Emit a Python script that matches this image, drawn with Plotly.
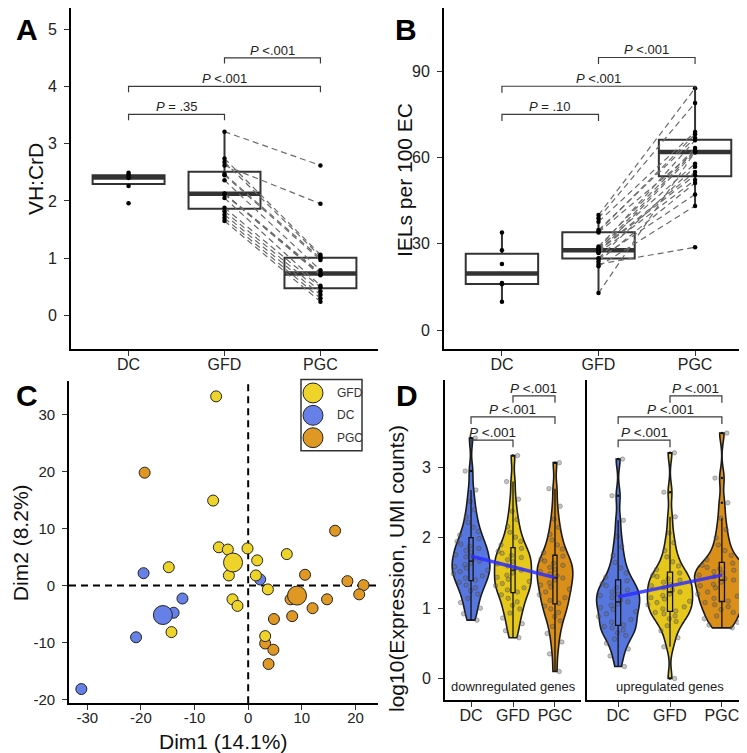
import numpy as np
import plotly.graph_objects as go

W, H = 747, 753
FONT = "Liberation Sans, Arial, sans-serif"

groups = ["DC", "GFD", "PGC"]
col_dc, col_gfd, col_pgc = "#6680E8", "#EED42A", "#DE9823"
group_colors = [col_dc, col_gfd, col_pgc]
violin_colors = ["#5877DE", "#E6C81C", "#D98F1A"]

# ---------------- Panel A: VH:CrD ----------------
vh_dc = [2.49, 2.46, 2.42, 2.40, 2.26, 1.96]
vh_gfd = [3.21, 2.74, 2.68, 2.62, 2.47, 2.45, 2.36, 2.13, 2.12, 2.12, 2.05, 1.88, 1.82, 1.76, 1.70, 1.65]
vh_pgc = [2.62, 1.06, 1.03, 1.95, 1.00, 0.97, 0.79, 0.74, 0.72, 0.70, 0.52, 0.49, 0.42, 0.36, 0.30, 0.24]
brackets_a = [(0, 1, 3.51, "<i>P</i> = .35"), (0, 2, 4.0, "<i>P</i> &lt;.001"), (1, 2, 4.5, "<i>P</i> &lt;.001")]

# ---------------- Panel B: IELs per 100 EC ----------------
iel_dc = [9.9, 16.0, 16.4, 23.0, 27.8, 34.0]
iel_gfd = [40.0, 38.9, 37.7, 34.8, 34.3, 34.0, 29.1, 28.5, 28.4, 27.9, 27.7, 27.6, 27.0, 26.8, 25.0, 24.8, 23.9, 23.0, 22.2, 12.9]
iel_pgc = [84.1, 79.0, 68.9, 66.8, 68.1, 62.2, 63.3, 66.0, 57.9, 62.5, 55.0, 53.9, 61.8, 52.2, 56.8, 47.2, 51.2, 28.8, 43.2, 62.0]
brackets_b = [(0, 1, 75.0, "<i>P</i> = .10"), (0, 2, 84.8, "<i>P</i> &lt;.001"), (1, 2, 94.8, "<i>P</i> &lt;.001")]

# ---------------- Panel C: PCA ----------------
pca_gfd_x = [-5.97, -6.53, -5.47, -3.79, -0.12, 1.68, 7.2, -14.8, -3.6, 1.43, 3.67, -2.92, -1.99, -14.3, 3.17]
pca_gfd_y = [33.2, 14.9, 6.7, 6.3, 6.5, 4.4, 5.5, 3.2, 1.75, 1.75, -0.7, -2.44, -3.6, -8.2, -8.9]
pca_dc_x = [-19.5, -12.25, -13.9, -20.9, -31.1, 2.24]
pca_dc_y = [2.15, -2.3, -4.8, -9.1, -18.2, 1.05]
pca_pgc_x = [-19.3, 16.2, 10.6, 18.5, 21.5, 20.7, 7.9, 14.7, 12.0, 4.8, 8.2, 3.17, 4.7, 3.8]
pca_pgc_y = [19.8, 9.6, 1.87, 0.75, 0.05, -1.57, -2.44, -2.44, -4.0, -5.9, -5.4, -10.2, -11.3, -13.8]
pca_ticks_x = [-30, -20, -10, 0, 10, 20]
pca_ticks_y = [-20, -10, 0, 10, 20, 30]

# ---------------- Panel D: expression ----------------
down_dc = [0.83, 0.92, 1.00, 1.08, 1.14, 1.20, 1.25, 1.29, 1.33, 1.37, 1.40,
           1.43, 1.46, 1.49, 1.52, 1.54, 1.57, 1.59, 1.62, 1.64, 1.67,
           1.70, 1.73, 1.76, 1.79, 1.82, 1.85, 1.88, 1.91, 1.95, 1.99,
           2.04, 2.09, 2.15, 2.22, 2.30, 2.40, 2.52, 2.68, 2.95, 3.42]
down_gfd = [0.58, 0.68, 0.78, 0.86, 0.93, 0.99, 1.04, 1.09, 1.14, 1.19, 1.23,
            1.26, 1.29, 1.32, 1.35, 1.38, 1.41, 1.44, 1.47, 1.50, 1.54,
            1.57, 1.60, 1.63, 1.66, 1.69, 1.72, 1.75, 1.78, 1.81, 1.85,
            1.90, 1.95, 2.01, 2.08, 2.16, 2.26, 2.38, 2.55, 2.80, 3.17]
down_pgc = [0.10, 0.35, 0.52, 0.64, 0.74, 0.82, 0.88, 0.94, 0.99, 1.03, 1.07,
            1.11, 1.15, 1.19, 1.23, 1.27, 1.30, 1.33, 1.36, 1.40, 1.43,
            1.46, 1.49, 1.52, 1.55, 1.58, 1.61, 1.64, 1.67, 1.70, 1.74,
            1.79, 1.84, 1.90, 1.97, 2.05, 2.15, 2.27, 2.45, 2.70, 3.07]
up_dc = [0.17, 0.32, 0.42, 0.50, 0.56, 0.61, 0.65, 0.69, 0.72, 0.74, 0.76,
         0.80, 0.84, 0.88, 0.92, 0.95, 0.98, 1.01, 1.04, 1.06, 1.09,
         1.12, 1.15, 1.18, 1.20, 1.23, 1.26, 1.29, 1.32, 1.35, 1.39,
         1.44, 1.50, 1.57, 1.65, 1.75, 1.87, 2.02, 2.25, 2.60, 3.12]
up_gfd = [0.00, 0.45, 0.58, 0.68, 0.75, 0.81, 0.85, 0.89, 0.92, 0.94, 0.96,
          0.99, 1.02, 1.05, 1.08, 1.10, 1.13, 1.15, 1.18, 1.20, 1.23,
          1.26, 1.29, 1.32, 1.34, 1.37, 1.40, 1.42, 1.45, 1.47, 1.50,
          1.55, 1.60, 1.66, 1.73, 1.82, 1.93, 2.07, 2.30, 2.65, 3.21]
up_pgc = [0.72, 0.76, 0.80, 0.85, 0.89, 0.94, 0.98, 1.02, 1.05, 1.08, 1.10,
          1.14, 1.17, 1.20, 1.23, 1.26, 1.29, 1.32, 1.34, 1.37, 1.40,
          1.42, 1.45, 1.47, 1.50, 1.52, 1.54, 1.56, 1.58, 1.61, 1.64,
          1.69, 1.75, 1.82, 1.90, 2.00, 2.12, 2.28, 2.50, 2.85, 3.49]
brackets_d = [(0, 1, 3.39, "<i>P</i> &lt;.001"), (0, 2, 3.72, "<i>P</i> &lt;.001"), (1, 2, 4.02, "<i>P</i> &lt;.001")]
facet_labels = ["downregulated genes", "upregulated genes"]


def X(px):
    return px / W


def Y(py):
    return 1 - py / H


fig = go.Figure()
annotations = []
shapes = []


def stats(v):
    v = np.asarray(v, float)
    q1, med, q3 = np.percentile(v, [25, 50, 75])
    iqr = q3 - q1
    lo = v[v >= q1 - 1.5 * iqr].min()
    hi = v[v <= q3 + 1.5 * iqr].max()
    return q1, med, q3, lo, hi


def box_panel(vals_list, gfd, pgc, xa, ya):
    for i, v in enumerate(vals_list):
        q1, med, q3, lo, hi = stats(v)
        fig.add_trace(go.Box(x=[i], q1=[q1], median=[med], q3=[q3], lowerfence=[lo], upperfence=[hi],
                             orientation="v", width=0.75, fillcolor="white",
                             line=dict(color="#333333", width=2), whiskerwidth=0,
                             boxpoints=False, xaxis=xa, yaxis=ya, showlegend=False, hoverinfo="skip"))
        fig.add_trace(go.Scatter(x=[i - 0.375, i + 0.375], y=[med, med], mode="lines",
                                 line=dict(color="#333333", width=4.5), xaxis=xa, yaxis=ya,
                                 showlegend=False, hoverinfo="skip"))
    xs, ys = [], []
    for g, p in zip(gfd, pgc):
        xs += [1, 2, None]
        ys += [g, p, None]
    fig.add_trace(go.Scatter(x=xs, y=ys, mode="lines", line=dict(color="#6b6b6b", width=1.2, dash="6px,4px"),
                             xaxis=xa, yaxis=ya, showlegend=False, hoverinfo="skip"))
    px_, py_ = [], []
    for i, v in enumerate(vals_list):
        px_ += [i] * len(v)
        py_ += list(v)
    fig.add_trace(go.Scatter(x=px_, y=py_, mode="markers", marker=dict(color="black", size=4.5),
                             xaxis=xa, yaxis=ya, showlegend=False, hoverinfo="skip"))


def brackets(blist, tick, xa, ya, size):
    for i, j, lev, lab in blist:
        fig.add_trace(go.Scatter(x=[i, i, j, j], y=[lev - tick, lev, lev, lev - tick], mode="lines",
                                 line=dict(color="#3a3a3a", width=1.2), xaxis=xa, yaxis=ya,
                                 showlegend=False, hoverinfo="skip"))
        annotations.append(dict(text=lab, x=(i + j) / 2, y=lev, xref=xa, yref=ya,
                                xanchor="center", yanchor="bottom", yshift=-2, showarrow=False,
                                font=dict(size=size, color="#222", family=FONT)))


# Panel A
box_panel([vh_dc, vh_gfd, vh_pgc], vh_gfd, vh_pgc, "x", "y")
brackets(brackets_a, 0.1, "x", "y", 13)
# Panel B
box_panel([iel_dc, iel_gfd, iel_pgc], iel_gfd, iel_pgc, "x2", "y2")
brackets(brackets_b, 2.3, "x2", "y2", 13)

# Panel C
for gx, gy, c in [(pca_dc_x, pca_dc_y, col_dc), (pca_pgc_x, pca_pgc_y, col_pgc), (pca_gfd_x, pca_gfd_y, col_gfd)]:
    fig.add_trace(go.Scatter(x=gx, y=gy, mode="markers",
                             marker=dict(color=c, size=11, line=dict(color="#222", width=1)),
                             xaxis="x3", yaxis="y3", showlegend=False, hoverinfo="skip"))
for gx, gy, c in [(pca_gfd_x, pca_gfd_y, col_gfd), (pca_dc_x, pca_dc_y, col_dc), (pca_pgc_x, pca_pgc_y, col_pgc)]:
    fig.add_trace(go.Scatter(x=[np.mean(gx)], y=[np.mean(gy)], mode="markers",
                             marker=dict(color=c, size=19, line=dict(color="#222", width=1)),
                             xaxis="x3", yaxis="y3", showlegend=False, hoverinfo="skip"))
shapes.append(dict(type="line", xref="x3", yref="y3 domain", x0=0, x1=0, y0=0, y1=1, layer="below",
                   line=dict(color="black", width=2, dash="7px,5px")))
shapes.append(dict(type="line", xref="x3 domain", yref="y3", x0=0, x1=1, y0=0, y1=0, layer="below",
                   line=dict(color="black", width=2, dash="7px,5px")))
# legend for C
shapes.append(dict(type="rect", xref="paper", yref="paper", x0=X(293), x1=X(354), y0=Y(445), y1=Y(373.5),
                   line=dict(color="#333", width=1.5), fillcolor="white", layer="above"))
for k, (name, c) in enumerate([("GFD", col_gfd), ("DC", col_dc), ("PGC", col_pgc)]):
    cy = [387, 409.5, 432][k]
    shapes.append(dict(type="circle", xref="paper", yref="paper", x0=X(295), x1=X(315), y0=Y(cy + 10), y1=Y(cy - 10),
                       line=dict(color="#222", width=1), fillcolor=c, layer="above"))
    annotations.append(dict(text=name, x=X(327), y=Y(cy), xref="paper", yref="paper", xanchor="left",
                            yanchor="middle", showarrow=False, font=dict(size=12, color="#333", family=FONT)))

# Panel D
facets = [([down_dc, down_gfd, down_pgc], [0.90, 0.88, 0.85], "x4", "y4"),
          ([up_dc, up_gfd, up_pgc], [0.83, 0.87, 1.05], "x5", "y5")]
for vals, widths, xa, ya in facets:
    for i, (v, w, c) in enumerate(zip(vals, widths, violin_colors)):
        fig.add_trace(go.Violin(x=[i] * len(v), y=v, width=w, scalemode="width", spanmode="hard",
                                bandwidth=0.13, fillcolor=c, line=dict(color="#1a1a1a", width=1.6),
                                points="all", pointpos=0, jitter=1.0,
                                marker=dict(color="rgba(100,100,100,0.38)", size=4.5,
                                            line=dict(color="rgba(45,45,45,0.5)", width=0.6)),
                                box_visible=False, meanline_visible=False, opacity=1,
                                xaxis=xa, yaxis=ya, showlegend=False, hoverinfo="skip"))
    for i, v in enumerate(vals):
        fig.add_trace(go.Box(x=[i] * len(v), y=v, width=0.1, fillcolor="rgba(0,0,0,0)",
                             line=dict(color="#111", width=1.3), whiskerwidth=0, boxpoints="outliers",
                             pointpos=0, jitter=0, marker=dict(color="#111", size=2.5),
                             xaxis=xa, yaxis=ya, showlegend=False, hoverinfo="skip"))
    xs_all = np.concatenate([[i] * len(v) for i, v in enumerate(vals)])
    ys_all = np.concatenate(vals)
    b, a = np.polyfit(xs_all, ys_all, 1)
    fig.add_trace(go.Scatter(x=[0, 2], y=[a, a + 2 * b], mode="lines",
                             line=dict(color="rgba(45,45,255,0.85)", width=3.5),
                             xaxis=xa, yaxis=ya, showlegend=False, hoverinfo="skip"))
    brackets(brackets_d, 0.1, xa, ya, 13.5)

for lab, cx in zip(facet_labels, [505, 662]):
    annotations.append(dict(text=lab, x=X(cx), y=Y(682), xref="paper", yref="paper", xanchor="center",
                            yanchor="middle", showarrow=False, font=dict(size=13, color="#222", family=FONT)))

# axis titles
titles = [("VH:CrD", 27, 172, -90), ("IELs per 100 EC", 396, 173, -90), ("Dim2 (8.2%)", 12, 538, -90),
          ("Dim1 (14.1%)", 215, 737, 0), ("log10(Expression, UMI counts)", 388, 564, -90)]
for t, px, py, ang in titles:
    annotations.append(dict(text=t, x=X(px), y=Y(py), xref="paper", yref="paper", xanchor="center",
                            yanchor="middle", textangle=ang, showarrow=False, borderpad=0,
                            font=dict(size=21, color="#111", family=FONT)))
for t, px, py in [("A", 19, 22), ("B", 398, 22), ("C", 19, 390), ("D", 399, 390)]:
    annotations.append(dict(text="<b>" + t + "</b>", x=X(px), y=Y(py), xref="paper", yref="paper",
                            xanchor="center", yanchor="middle", showarrow=False,
                            font=dict(size=30, color="black", family=FONT)))

common = dict(showline=True, linecolor="black", linewidth=1.8, ticks="outside", ticklen=5, tickwidth=1.2,
              tickcolor="#333", showgrid=False, zeroline=False, mirror=False, fixedrange=True)
xcommon = dict(common, ticklabelstandoff=-5)
ycommon = dict(common, ticklabelstandoff=4)
tf16 = dict(size=16, color="#222", family=FONT)
tf15 = dict(size=15, color="#222", family=FONT)

fig.update_layout(
    width=W, height=H, autosize=False, margin=dict(l=0, r=0, t=0, b=0),
    paper_bgcolor="white", plot_bgcolor="white", showlegend=False,
    font=dict(family=FONT), boxmode="overlay", violinmode="overlay",
    xaxis=dict(xcommon, domain=[X(63), X(370)], range=[-0.6, 2.6], tickvals=[0, 1, 2], ticktext=groups,
               tickfont=tf16, anchor="y"),
    yaxis=dict(ycommon, domain=[Y(343), Y(0)], range=[-0.59, 5.37], tickvals=[0, 1, 2, 3, 4, 5],
               tickfont=tf16, anchor="x"),
    xaxis2=dict(xcommon, domain=[X(436), X(745)], range=[-0.6, 2.6], tickvals=[0, 1, 2], ticktext=groups,
                tickfont=tf16, anchor="y2"),
    yaxis2=dict(ycommon, domain=[Y(343), Y(0)], range=[-6.6, 112], tickvals=[0, 30, 60, 90],
                tickfont=tf16, anchor="x2"),
    xaxis3=dict(xcommon, domain=[X(61), X(370)], range=[-33.4, 24.2], tickvals=pca_ticks_x,
                ticktext=[str(v) for v in pca_ticks_x], tickfont=tf15, anchor="y3"),
    yaxis3=dict(ycommon, domain=[Y(699), Y(375)], range=[-20.7, 35.9], tickvals=pca_ticks_y,
                ticktext=[str(v) for v in pca_ticks_y], tickfont=tf15, anchor="x3"),
    xaxis4=dict(xcommon, domain=[X(437), X(573)], range=[-0.62, 2.62], tickvals=[0, 1, 2], ticktext=groups,
                tickfont=tf16, anchor="y4"),
    yaxis4=dict(ycommon, domain=[Y(696), Y(374)], range=[-0.31, 4.245], tickvals=[0, 1, 2, 3],
                tickfont=tf16, anchor="x4"),
    xaxis5=dict(xcommon, domain=[X(579), X(745)], range=[-0.6, 2.6], tickvals=[0, 1, 2], ticktext=groups,
                tickfont=tf16, anchor="y5"),
    yaxis5=dict(ycommon, domain=[Y(696), Y(374)], range=[-0.31, 4.245], showticklabels=False, ticks="",
                anchor="x5"),
    annotations=annotations, shapes=shapes,
)

fig.write_html("out.html")
